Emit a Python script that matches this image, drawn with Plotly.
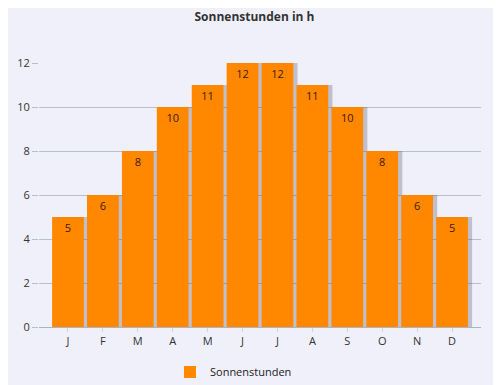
import plotly.graph_objects as go

months = ["J", "F", "M", "A", "M", "J", "J", "A", "S", "O", "N", "D"]
sun_hours = [5, 6, 8, 10, 11, 12, 12, 11, 10, 8, 6, 5]
x_idx = list(range(len(months)))

# page body has an 8px default margin, so the figure is offset by (8, 8)
W, H = 493, 377
BW = 0.91
fig = go.Figure()
# soft shadow
fig.add_trace(go.Bar(
    x=x_idx, y=sun_hours, width=BW, offset=-BW / 2 + 0.12,
    marker=dict(color="rgba(80,80,100,0.30)", line=dict(width=0)),
    hoverinfo="skip", showlegend=False,
))
fig.add_trace(go.Bar(
    x=x_idx, y=sun_hours, name="Sonnenstunden", width=BW,
    marker=dict(color="#ff8800", line=dict(width=0)),
    text=[str(v) for v in sun_hours], textposition="inside",
    insidetextanchor="end",
    textfont=dict(color="#3a1a00", size=11, family="Open Sans"),
))

fig.update_layout(
    width=W, height=H,
    margin=dict(l=31, r=20, t=55, b=58, autoexpand=False),
    paper_bgcolor="#f0f0fb", plot_bgcolor="#f0f0fb",
    barmode="overlay",
    title=dict(text="<b>Sonnenstunden in h</b>", x=0.5, xanchor="center",
               yref="container", y=1 - 9 / H, yanchor="middle",
               font=dict(family="Open Sans", size=12, color="#333333")),
    showlegend=True,
    legend=dict(orientation="h", x=0.44, xanchor="center",
                yref="container", y=13 / H, yanchor="middle",
                itemwidth=30, tracegroupgap=0,
                font=dict(family="Open Sans", size=11, color="#222222")),
    font=dict(family="Open Sans", size=11, color="#333333"),
)
fig.update_xaxes(
    tickmode="array", tickvals=x_idx, ticktext=months,
    range=[-0.83, 11.83], showgrid=False, zeroline=False,
    showline=True, linecolor="#aab4c4", linewidth=1,
    ticks="outside", ticklen=4, tickcolor="#d0d6e0",
)
fig.update_yaxes(
    range=[0, 12], tickvals=[0, 2, 4, 6, 8, 10, 12],
    showgrid=True, gridcolor="#b4c0cf", gridwidth=1, zeroline=False,
    ticks="outside", ticklen=6, tickcolor="#b4c0cf",
)
fig.write_html("out.html")
